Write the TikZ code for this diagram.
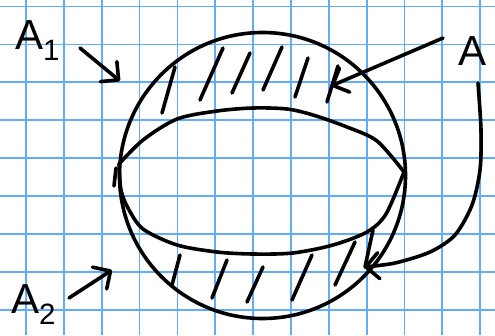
\documentclass[tikz,border=0pt]{standalone}
\usepackage{fontspec}
\setmainfont{Liberation Sans}
\usepackage{tikz}
\usetikzlibrary{arrows.meta}
\definecolor{gridblue}{RGB}{99,172,250}

\begin{document}
\begin{tikzpicture}[x=1pt,y=-1pt,>={Straight Barb[length=13pt,width=26pt,round]},
  ink/.style={line width=3.6pt,line cap=round,line join=round},
  gridline/.style={gridblue,line width=1.8pt},
  lbl/.style={font=\fontsize{42}{42}\selectfont,inner sep=0pt}]
\fill[white] (0,0) rectangle (495,335);
\useasboundingbox (0,0) rectangle (495,335);
% grid paper
\foreach \k in {0,...,12} \draw[gridline] ({26+37.85*\k},0)--({26+37.85*\k},335);
\foreach \k in {0,...,8} \draw[gridline] (0,{6.5+37.9*\k})--(495,{6.5+37.9*\k});
% sphere and inner lens
\node[draw,circle,ink,minimum size=286pt,inner sep=0pt] (ball) at (262.5,175.5) {};
\draw[ink] plot[smooth] coordinates {(119,164) (143,140) (177,119) (217,111) (253,108) (287,109) (313,115) (347,127) (377,141) (404,172)};
\draw[ink] plot[smooth] coordinates {(119,164) (121,190) (128,208) (143,229) (177,245) (217,252) (253,254) (293,253) (333,245) (367,232) (386,214) (404,172)};
\draw[ink] (116,168)--(114,186);
% hatching
\foreach \xa/\ya/\xb/\yb in {175/67/162/113,223/48/200/100,250/53/232/93,282/47/263/90,308/58/295/97,338/66/327/102,
  180/255/172/285,227/260/212/298,263/267/247/302,312/255/292/300,355/242/335/285,373/230/365/267}
  \draw[ink] (\xa,\ya)--(\xb,\yb);
% labels
\node[lbl,anchor=base west] (lblA1) at (15,49) {A\textsubscript{1}};
\node[lbl,anchor=base west] (lblA2) at (11,313) {A\textsubscript{2}};
\node[lbl,anchor=base] (lblA) at (473,65) {A};
\coordinate (a1Tail) at (80,48);   \coordinate (a1Tip) at (120,81);
\coordinate (a2Tail) at (69,298);  \coordinate (a2Tip) at (112,270);
\coordinate (aTail) at (443,38);   \coordinate (aTip) at (331,86);
\coordinate (aSide) at (478,83);   \coordinate (aBot) at (364,267);
\draw[ink,->] (a1Tail)--(a1Tip);
\draw[ink,->] (a2Tail)--(a2Tip);
\draw[ink,->] (aTail)--(aTip);
\draw[ink,->] plot[smooth] coordinates {(aSide) (481,130) (480,170) (472,205) (455,235) (430,252) (395,263) (aBot)};
\end{tikzpicture}
\end{document}
